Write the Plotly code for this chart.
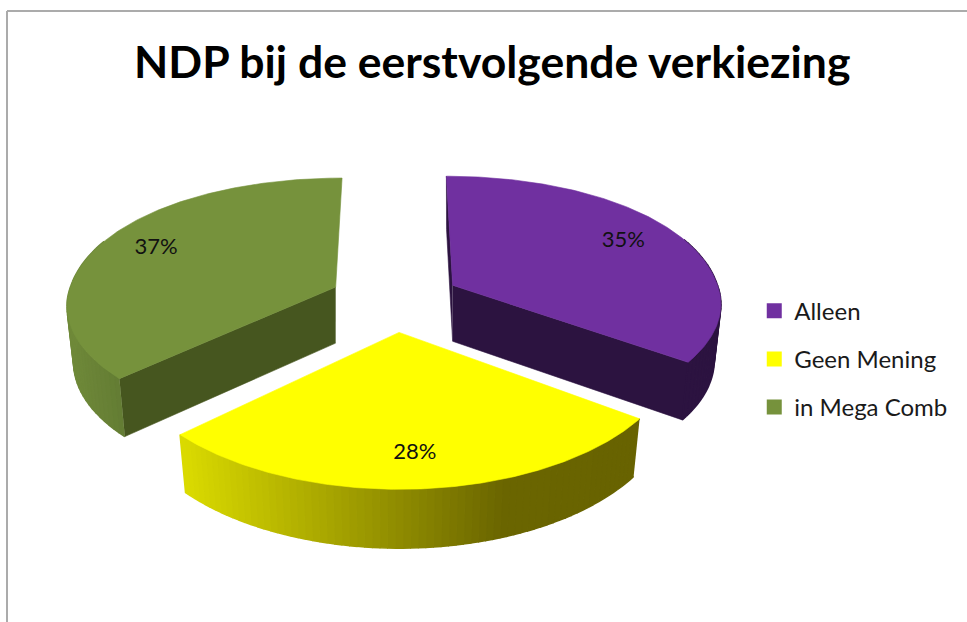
import numpy as np
import plotly.graph_objects as go

# ---- data ----
categories = ["Alleen", "Geen Mening", "in Mega Comb"]
values = [35, 28, 37]
labels = ["35%", "28%", "37%"]
title = "NDP bij de eerstvolgende verkiezing"

# ---- styles ----
top_colors = ["#7030a0", "#ffff00", "#76923c"]
cut_colors = ["#2c1340", "#6b6600", "#46561f"]
FONT = "Lato"
CX, CY, RX, RY = 395.0, 300.0, 265.0, 133.0
EXPLODE, K_Y, K_X, DEPTH, LEAN = 0.244, 0.18, 0.14, 56.0, 0.025
LABEL_R = [0.77, 0.80, 0.78]
VISIBLE_CUTS = [(0, 1), (), (0,)]  # which cut faces of each slice can be seen


def lerp(stops, t):
    t = min(max(t, 0), 1)
    xs = [s[0] for s in stops]
    return "rgb(%d,%d,%d)" % tuple(np.interp(t, xs, [s[1][i] for s in stops]) for i in range(3))


rim_stops = [
    [(0, (44, 19, 64)), (1, (44, 19, 64))],
    [(0, (218, 218, 0)), (0.7, (107, 102, 0)), (1, (104, 99, 0))],
    [(0, (112, 138, 58)), (1, (100, 125, 52))],
]

fig = go.Figure()


def project(theta, r, bis, bottom=False):
    """theta clockwise from the top of the pie; r as a fraction of the radius."""
    fwd = -np.cos(bis)
    ax0 = EXPLODE * RX * np.sin(bis)
    ay = CY + EXPLODE * RY * fwd
    v = -r * np.cos(theta)
    u = r * np.sin(theta)
    ax = CX + ax0
    scale = 1 + 0.025 * (fwd + 0.43)
    front = 1 + 0.075 * (fwd - 1)
    x = CX + ax0 * (1 + 0.6 * K_Y * v) + RX * u * (1 + K_X * v) * scale
    y = ay + RY * v * (1 + K_Y * v) * np.where(v > 0, front, 1.0)
    if bottom:
        x = x + (ax - x) * LEAN
        y = y + DEPTH * (1 + 0.05 * v)
    return x, y


def poly(xs, ys, color, lw=0.6):
    fig.add_trace(go.Scatter(x=list(xs), y=list(ys), mode="lines", fill="toself",
                             fillcolor=color, line=dict(color=color, width=lw),
                             showlegend=False, hoverinfo="skip"))


total = sum(values)
edges = np.cumsum([0] + values) / total * 2 * np.pi
order = [0, 2, 1]  # back slices first, the front slice last
for i in order:
    a0, a1 = edges[i], edges[i + 1]
    bis = (a0 + a1) / 2

    # the straight cut faces
    for side in VISIBLE_CUTS[i]:
        a = (a0, a1)[side]
        ex, ey = project(a, 1.0, bis)
        ox, oy = project(a, 0.0, bis)
        fx, fy = project(a, 1.0, bis, True)
        gx, gy = project(a, 0.0, bis, True)
        poly([ox, ex, fx, gx], [oy, ey, fy, gy], cut_colors[i])

    # outer rim, in small strips so it can carry a gradient
    n = 70
    th = np.linspace(a0, a1, n + 1)
    tx, ty = project(th, 1.0, bis)
    bx, by = project(th, 1.0, bis, True)
    visible = [k for k in range(n) if -np.cos(th[k + 1]) > -0.35 or -np.cos(th[k]) > -0.35]
    lo, hi = min(tx[k] for k in visible), max(tx[k] for k in visible)
    for k in visible:
        m = (tx[k] + tx[k + 1]) / 2
        poly([tx[k], tx[k + 1], bx[k + 1], bx[k]], [ty[k], ty[k + 1], by[k + 1], by[k]],
             lerp(rim_stops[i], (m - lo) / (hi - lo)), lw=1.6)

    # top surface
    th2 = np.linspace(a0, a1, 160)
    sx, sy = project(th2, 1.0, bis)
    ox, oy = project(a0, 0.0, bis)
    poly(np.r_[ox, sx, ox], np.r_[oy, sy, oy], top_colors[i])

# data labels
lx, ly = [], []
for i in range(len(values)):
    bis = (edges[i] + edges[i + 1]) / 2
    x, y = project(bis, LABEL_R[i], bis)
    lx.append(x)
    ly.append(y)
fig.add_trace(go.Scatter(x=lx, y=ly, mode="text", text=labels, textposition="middle center",
                         textfont=dict(family=FONT, size=22, color="#111111"),
                         showlegend=False, hoverinfo="skip"))

# legend entries
for i, name in enumerate(categories):
    fig.add_trace(go.Scatter(x=[None], y=[None], mode="markers", name=name, legendgroup=name,
                             marker=dict(symbol="square", size=15, color=top_colors[i])))

fig.update_layout(
    width=967, height=622, margin=dict(l=0, r=0, t=0, b=0),
    paper_bgcolor="white", plot_bgcolor="white",
    xaxis=dict(range=[0, 967], visible=False, fixedrange=True),
    yaxis=dict(range=[622, 0], visible=False, fixedrange=True),
    title=dict(text="<b>%s</b>" % title, x=0.509, xanchor="center", y=0.9, yanchor="middle",
               font=dict(family=FONT, size=44.5, color="#000000")),
    legend=dict(x=0.78, y=0.536, xanchor="left", yanchor="top", tracegroupgap=14,
                font=dict(family=FONT, size=24, color="#1a1a1a"), bgcolor="rgba(0,0,0,0)",
                itemwidth=30),
    shapes=[
        dict(type="line", x0=7, x1=967, y0=11, y1=11, line=dict(color="#ababab", width=2)),
        dict(type="line", x0=7, x1=7, y0=11, y1=622, line=dict(color="#ababab", width=2)),
    ],
)
fig.write_html("out.html", config={"displayModeBar": False},
               post_script="document.body.style.margin='0';")
